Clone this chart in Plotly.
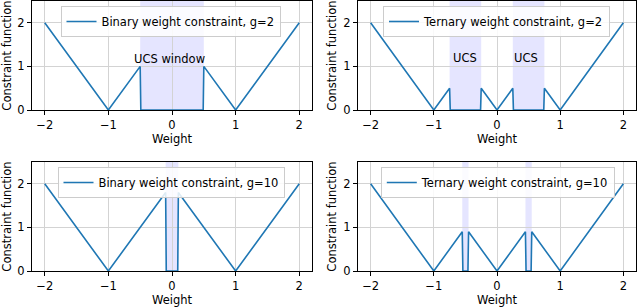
import plotly.graph_objects as go

# ---- data ----
w_bin2 = [-2, -1, -0.5, -0.49, 0.49, 0.5, 1, 2]
c_bin2 = [2, 0, 1, 0, 0, 1, 0, 2]
win_bin2 = [(-0.5, 0.5)]

w_ter2 = [-2, -1, -0.75, -0.74, -0.26, -0.25, 0, 0.25, 0.26, 0.74, 0.75, 1, 2]
c_ter2 = [2, 0, 0.5, 0, 0, 0.5, 0, 0.5, 0, 0, 0.5, 0, 2]
win_ter2 = [(-0.75, -0.25), (0.25, 0.75)]

w_bin10 = [-2, -1, -0.1, -0.09, 0.09, 0.1, 1, 2]
c_bin10 = [2, 0, 1.8, 0, 0, 1.8, 0, 2]
win_bin10 = [(-0.1, 0.1)]

w_ter10 = [-2, -1, -0.55, -0.54, -0.46, -0.45, 0, 0.45, 0.46, 0.54, 0.55, 1, 2]
c_ter10 = [2, 0, 0.9, 0, 0, 0.9, 0, 0.9, 0, 0, 0.9, 0, 2]
win_ter10 = [(-0.55, -0.45), (0.45, 0.55)]

names = ["Binary weight constraint, g=2", "Ternary weight constraint, g=2",
         "Binary weight constraint, g=10", "Ternary weight constraint, g=10"]

x_ticks = [-2, -1, 0, 1, 2]
x_ticktext = ["\u22122", "\u22121", "0", "1", "2"]
y_ticks = [0, 1, 2]
y_ticktext = ["0", "1", "2"]

ann_text = ["UCS window", "UCS", "UCS"]
ann_x = [-0.04, -0.51, 0.46]
ann_y = [1.18, 1.19, 1.19]
ann_panel = [0, 1, 1]

# ---- layout geometry (pixels) ----
W, H = 640, 308
ML, MR, MT, MB = 32, 4, 1, 37
IW, IH = W - ML - MR, H - MT - MB
FONT = "DejaVu Sans"
FS = 11.5
BLUE = "#1f77b4"


def px_x(p):
    return (p - ML) / IW


def px_y(p):
    return (H - MB - p) / IH


panels = [
    dict(x=(32, 312), y=(1, 110)),
    dict(x=(358, 636), y=(1, 110)),
    dict(x=(32, 312), y=(162, 271)),
    dict(x=(358, 636), y=(162, 271)),
]
legend_pos = [(170.5, 6), (496.5, 6), (171, 167), (497.8, 167)]

series = [(w_bin2, c_bin2, win_bin2), (w_ter2, c_ter2, win_ter2),
          (w_bin10, c_bin10, win_bin10), (w_ter10, c_ter10, win_ter10)]

fig = go.Figure()
shapes = []
annotations = []
layout = {}
tfont = dict(family=FONT, size=FS, color="black")

for i, (p, (w, c, wins)) in enumerate(zip(panels, series)):
    sfx = "" if i == 0 else str(i + 1)
    xa = "x" + sfx
    ya = "y" + sfx
    leg = "legend" + sfx
    fig.add_trace(go.Scatter(x=w, y=c, mode="lines", name=names[i],
                             line=dict(color=BLUE, width=1.6),
                             xaxis=xa, yaxis=ya, legend=leg, showlegend=True))
    xd = [max(0, px_x(p["x"][0])), min(1, px_x(p["x"][1]))]
    yd = [max(0, px_y(p["y"][1])), min(1, px_y(p["y"][0]))]
    common = dict(showline=True, linecolor="black", linewidth=1, mirror=True,
                  ticks="outside", ticklen=4, tickwidth=1, tickcolor="black",
                  showgrid=True, gridcolor="#d3d3d3", gridwidth=1,
                  zeroline=False, automargin=False, tickfont=tfont)
    layout["xaxis" + sfx] = dict(domain=xd, range=[-2.2, 2.2], anchor=ya,
                                 tickmode="array", tickvals=x_ticks, ticktext=x_ticktext,
                                 title=dict(text="Weight", standoff=2, font=tfont),
                                 **common)
    layout["yaxis" + sfx] = dict(domain=yd, range=[0, 2.5], anchor=xa,
                                 tickmode="array", tickvals=y_ticks, ticktext=y_ticktext,
                                 title=dict(text="Constraint function", standoff=4, font=tfont),
                                 **common)
    lx, ly = legend_pos[i]
    layout[leg] = dict(x=px_x(lx), y=px_y(ly), xanchor="center", yanchor="top",
                       xref="paper", yref="paper", visible=True,
                       bgcolor="rgba(255,255,255,0.85)", bordercolor="#cccccc", borderwidth=1,
                       font=tfont, itemwidth=30, tracegroupgap=0)
    for (a, b) in wins:
        shapes.append(dict(type="rect", xref=xa, yref=ya + " domain",
                           x0=a, x1=b, y0=0, y1=1, line=dict(width=0),
                           fillcolor="rgba(0,0,255,0.1)", layer="below"))

for t, ax_, ay_, pi in zip(ann_text, ann_x, ann_y, ann_panel):
    sfx = "" if pi == 0 else str(pi + 1)
    annotations.append(dict(text=t, x=ax_, y=ay_, xref="x" + sfx, yref="y" + sfx,
                            showarrow=False, font=tfont))

fig.update_layout(width=W, height=H, margin=dict(l=ML, r=MR, t=MT, b=MB, autoexpand=False),
                  paper_bgcolor="white", plot_bgcolor="white", showlegend=True,
                  shapes=shapes, annotations=annotations, **layout)

fig.write_html("out.html", config={"displayModeBar": False},
               post_script="document.body.style.margin='0';document.body.style.overflow='hidden';")
